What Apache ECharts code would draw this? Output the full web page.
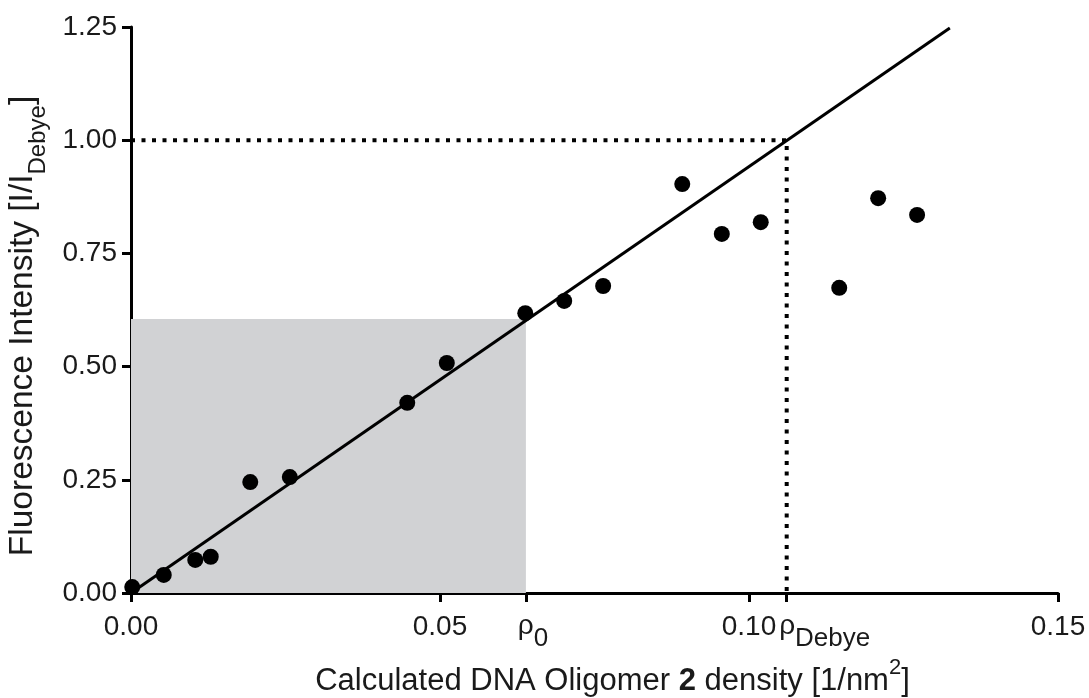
<!DOCTYPE html>
<html>
<head>
<meta charset="utf-8">
<script src="https://cdn.jsdelivr.net/npm/echarts@6/dist/echarts.min.js"></script>
<style>
html, body { margin: 0; padding: 0; background: #fff; }
#chart { width: 1089px; height: 698px; }
</style>
</head>
<body>
<div id="chart"></div>
<script>
var density = [0.0002, 0.0053, 0.0104, 0.0129, 0.0193, 0.0257, 0.0447, 0.0511, 0.0638,
  0.0701, 0.0764, 0.0892, 0.0956, 0.1019, 0.1146, 0.1209, 0.1272]
var intensity = [0.013, 0.040, 0.073, 0.080, 0.245, 0.256, 0.420, 0.508, 0.618,
  0.645, 0.678, 0.903, 0.793, 0.819, 0.674, 0.872, 0.835]

// linear fit drawn across the plot
var fitX = [0, 0.1325]
var fitY = [0, 1.248]

// marked densities
var rho0 = 0.0639
var rhoDebye = 0.1061
var shadeTop = 0.605

var xTicks = [0, 0.05, rho0, 0.10, rhoDebye, 0.15]
var xTickLabels = ['0.00', '0.05', '{r0|ρ}{sub|0}', '0.10', '{rD|ρ}{sub|Debye}', '0.15']

var font = 'Liberation Sans, Arial, sans-serif'
var ink = '#1a1a1a'
var chart = echarts.init(document.getElementById('chart'))

var points = density.map(function (x, i) { return [x, intensity[i]] })
var fit = fitX.map(function (x, i) { return [x, fitY[i]] })
var guide = [[0, 1], [rhoDebye, 1], [rhoDebye, 0]]

var option = {
  animation: false,
  backgroundColor: '#fff',
  grid: { left: 131, right: 31, top: 27, bottom: 105, outerBoundsMode: 'none' },
  xAxis: {
    type: 'value',
    min: 0,
    max: 0.15,
    splitLine: { show: false },
    axisLine: { show: true, onZero: false, lineStyle: { color: '#000', width: 3 } },
    axisTick: { show: true, customValues: xTicks, length: 9, lineStyle: { color: '#000', width: 3 } },
    axisLabel: {
      customValues: xTicks,
      margin: 19,
      color: ink,
      fontFamily: font,
      fontSize: 28,
      lineHeight: 30,
      formatter: function (v) {
        var i = xTicks.indexOf(v)
        return i < 0 ? '' : xTickLabels[i]
      },
      rich: {
        r0: { fontFamily: font, fontSize: 28, lineHeight: 30, verticalAlign: 'top', color: ink, padding: [0, 0, 0, 14] },
        rD: { fontFamily: font, fontSize: 28, lineHeight: 30, verticalAlign: 'top', color: ink, padding: [0, 0, 0, 76] },
        sub: { fontFamily: font, fontSize: 26, lineHeight: 40, verticalAlign: 'bottom', color: ink }
      }
    },
    name: '{t|Calculated DNA Oligomer }{b|2}{t| density [1/nm}{sup|2}{t|]}',
    nameLocation: 'middle',
    nameGap: 57,
    nameTextStyle: {
      padding: [0, 0, 0, 36],
      rich: {
        t: { fontFamily: font, fontSize: 31, lineHeight: 40, verticalAlign: 'bottom', color: ink },
        b: { fontFamily: font, fontSize: 31, lineHeight: 40, verticalAlign: 'bottom', fontWeight: 'bold', color: ink },
        sup: { fontFamily: font, fontSize: 22, lineHeight: 22, verticalAlign: 'top', color: ink }
      }
    }
  },
  yAxis: {
    type: 'value',
    min: 0,
    max: 1.25,
    interval: 0.25,
    splitLine: { show: false },
    axisLine: { show: true, onZero: false, lineStyle: { color: '#000', width: 3 } },
    axisTick: { show: true, length: 9, lineStyle: { color: '#000', width: 3 } },
    axisLabel: {
      margin: 14,
      color: ink,
      fontFamily: font,
      fontSize: 28,
      formatter: function (v) { return v.toFixed(2) }
    },
    name: '{t|Fluorescence Intensity [I/I}{sub|Debye}{t|]}',
    nameLocation: 'middle',
    nameGap: 81,
    nameTextStyle: {
      padding: [0, 32, 0, 0],
      rich: {
        t: { fontFamily: font, fontSize: 33.5, lineHeight: 35, verticalAlign: 'top', color: ink },
        sub: { fontFamily: font, fontSize: 24, lineHeight: 44, verticalAlign: 'bottom', color: ink }
      }
    }
  },
  series: [
    {
      type: 'scatter',
      data: points,
      symbolSize: 16,
      itemStyle: { color: '#000', opacity: 1 },
      z: 4,
      markArea: {
        silent: true,
        itemStyle: { color: '#d1d2d4', opacity: 1 },
        data: [[{ coord: [0, 0] }, { coord: [rho0, shadeTop] }]]
      }
    },
    {
      type: 'line',
      data: fit,
      symbol: 'none',
      lineStyle: { color: '#000', width: 3 },
      z: 3
    },
    {
      type: 'line',
      data: guide,
      symbol: 'none',
      lineStyle: { color: '#000', width: 4, type: [4, 6.5] },
      z: 3
    }
  ]
}

chart.setOption(option)
</script>
</body>
</html>
